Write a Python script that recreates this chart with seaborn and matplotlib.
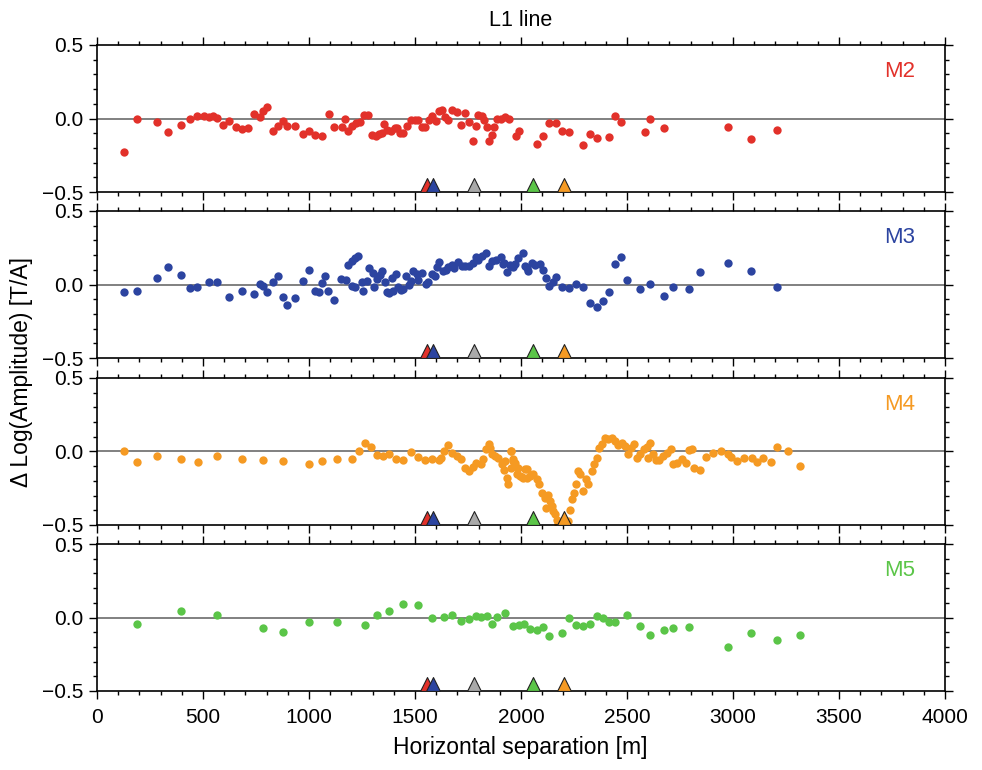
import matplotlib
matplotlib.use("Agg")
import matplotlib.pyplot as plt
from matplotlib.ticker import MultipleLocator
import pandas as pd
import seaborn as sns

# values (x in metres, y = delta log amplitude)
m2_x = [129, 187, 285, 335, 395, 437, 473, 503, 527, 546, 568, 596, 623, 656, 685, 712, 741, 769, 781, 800,
        829, 852, 876, 896, 932, 970, 999, 1030, 1061, 1093, 1116, 1154, 1171, 1185, 1204, 1222, 1240, 1259, 1277,
        1296, 1314, 1330, 1344, 1352, 1366, 1385, 1404, 1413, 1429, 1445, 1462, 1480, 1498, 1516, 1531, 1549, 1564,
        1580, 1599, 1612, 1626, 1641, 1657, 1674, 1697, 1715, 1736, 1754, 1772, 1788, 1795, 1814, 1827, 1838, 1851,
        1862, 1873, 1885, 1904, 1926, 1945, 1976, 1992, 2074, 2102, 2133, 2163, 2193, 2226, 2294, 2325, 2357, 2415,
        2443, 2472, 2585, 2609, 2675, 2975, 3087, 3208]
m2_y = [-0.229, -0.005, -0.023, -0.09, -0.045, 0.0, 0.016, 0.016, 0.011, 0.016, 0.005, -0.043, -0.014, -0.059,
        -0.073, -0.066, 0.032, 0.011, 0.05, 0.079, -0.082, -0.05, -0.016, -0.048, -0.048, -0.104, -0.088, -0.111,
        -0.118, 0.032, -0.057, -0.057, -0.005, -0.086, -0.048, -0.032, -0.027, 0.025, 0.023, -0.113, -0.116, -0.107,
        -0.1, -0.036, -0.077, -0.084, -0.068, -0.066, -0.102, -0.098, -0.048, -0.011, -0.011, -0.009, -0.061, -0.057,
        -0.009, 0.016, -0.014, 0.048, 0.061, 0.011, -0.007, 0.057, 0.043, -0.041, 0.036, -0.025, -0.152, -0.054,
        0.023, 0.016, -0.011, -0.057, -0.156, -0.111, -0.057, -0.002, -0.002, 0.011, -0.005, -0.122, -0.082, -0.175,
        -0.118, -0.034, -0.032, -0.086, -0.093, -0.177, -0.104, -0.134, -0.127, 0.02, -0.027, -0.095, -0.005, -0.066,
        -0.059, -0.138, -0.079]

m3_x = [129, 187, 285, 335, 395, 437, 473, 527, 568, 623, 684, 741, 769, 781, 800, 829, 854, 876, 896, 932, 970,
        1000, 1027, 1045, 1060, 1075, 1091, 1116, 1152, 1174, 1185, 1201, 1217, 1233, 1204, 1217, 1248, 1256, 1275,
        1284, 1300, 1306, 1319, 1335, 1346, 1358, 1366, 1377, 1390, 1398, 1409, 1421, 1432, 1445, 1457, 1473, 1480,
        1492, 1508, 1516, 1531, 1552, 1563, 1578, 1594, 1602, 1615, 1630, 1646, 1657, 1673, 1684, 1704, 1720, 1736,
        1754, 1772, 1788, 1799, 1814, 1835, 1848, 1862, 1882, 1904, 1920, 1932, 1951, 1971, 1987, 2011, 2027, 1916,
        1947, 1963, 2018, 2034, 2050, 2066, 2090, 2102, 2118, 2134, 2149, 2165, 2192, 2226, 2261, 2294, 2325, 2357,
        2387, 2415, 2443, 2473, 2501, 2563, 2609, 2675, 2719, 2794, 2844, 2975, 3086, 3208]
m3_y = [-0.05, -0.043, 0.043, 0.118, 0.063, -0.027, -0.02, 0.018, 0.014, -0.088, -0.041, -0.068, 0.002, -0.007,
        -0.054, 0.018, 0.061, -0.088, -0.141, -0.093, 0.027, 0.098, -0.043, -0.054, 0.011, 0.059, -0.045, -0.107,
        0.039, 0.029, 0.136, 0.159, 0.181, 0.195, -0.009, -0.02, 0.02, -0.041, 0.023, 0.109, 0.079, -0.018, 0.036,
        0.068, 0.093, 0.018, -0.05, -0.057, 0.041, -0.045, 0.07, -0.018, -0.036, -0.034, 0.061, 0.0, 0.023, 0.095,
        0.073, 0.029, 0.077, 0.005, 0.018, 0.07, 0.057, 0.122, 0.156, 0.095, 0.102, 0.122, 0.136, 0.113, 0.152,
        0.129, 0.125, 0.125, 0.147, 0.186, 0.17, 0.193, 0.215, 0.125, 0.163, 0.17, 0.186, 0.147, 0.086, 0.125,
        0.141, 0.181, 0.215, 0.113, 0.141, 0.136, 0.122, 0.125, 0.095, 0.147, 0.136, 0.141, 0.1, 0.043, -0.009,
        0.018, 0.048, -0.014, -0.027, 0.002, -0.02, -0.127, -0.154, -0.111, -0.054, 0.141, 0.184, 0.032, -0.032,
        0.002, -0.079, -0.018, -0.029, 0.084, 0.143, 0.095, -0.018]

m4_x = [129, 187, 285, 395, 475, 568, 684, 781, 876, 1000, 1060, 1134, 1201, 1234, 1263, 1294, 1322, 1351, 1379,
        1410, 1442, 1480, 1513, 1549, 1580, 1612, 1623, 1637, 1657, 1673, 1697, 1715, 1736, 1754, 1772, 1788, 1810,
        1822, 1835, 1848, 1854, 1862, 1878, 1893, 1909, 1921, 1932, 1940, 1951, 1951, 1964, 1971, 1979, 1987, 2003,
        2019, 2030, 1924, 1952, 1963, 1995, 2011, 2026, 2042, 2058, 2074, 2086, 2097, 2113, 2118, 2129, 2137, 2145,
        2152, 2160, 2168, 2176, 2223, 2231, 2239, 2250, 2259, 2270, 2278, 2294, 2306, 2317, 2333, 2344, 2357, 2369,
        2380, 2396, 2412, 2427, 2443, 2459, 2475, 2490, 2506, 2517, 2533, 2545, 2561, 2580, 2592, 2608, 2600, 2621,
        2637, 2652, 2671, 2687, 2706, 2718, 2734, 2758, 2778, 2794, 2807, 2818, 2844, 2873, 2904, 2943, 2975, 2989,
        3017, 3053, 3088, 3111, 3143, 3179, 3208, 3261, 3316]
m4_y = [0.002, -0.07, -0.032, -0.052, -0.073, -0.032, -0.048, -0.057, -0.063, -0.088, -0.063, -0.05, -0.05, 0.0,
        0.057, 0.032, -0.023, -0.029, -0.018, -0.05, -0.061, -0.005, -0.036, -0.057, -0.048, -0.057, -0.045, 0.002,
        0.041, -0.007, -0.034, -0.054, -0.111, -0.134, -0.107, -0.079, -0.088, -0.052, 0.016, 0.054, 0.023, -0.014,
        -0.029, -0.041, -0.086, -0.127, -0.177, -0.222, 0.002, -0.109, -0.052, -0.075, -0.154, -0.109, -0.172, -0.12,
        -0.177, -0.063, 0.005, -0.063, -0.166, -0.177, -0.12, -0.166, -0.154, -0.188, -0.222, -0.279, -0.313, -0.381,
        -0.295, -0.34, -0.37, -0.404, -0.426, -0.467, -0.49, -0.472, -0.399, -0.324, -0.279, -0.222, -0.132, -0.154,
        -0.268, -0.188, -0.222, -0.132, -0.086, -0.041, 0.027, 0.054, 0.095, 0.084, 0.095, 0.073, 0.045, 0.061,
        0.039, -0.018, 0.027, 0.054, -0.045, -0.018, 0.016, 0.032, 0.061, -0.045, -0.014, -0.059, -0.059, -0.029,
        -0.007, 0.014, -0.082, -0.079, -0.052, -0.079, 0.009, 0.018, -0.109, -0.127, -0.036, -0.011, 0.005, -0.018,
        -0.036, -0.063, -0.045, -0.045, -0.07, -0.045, -0.07, 0.029, 0.002, -0.1]

m5_x = [187, 395, 568, 781, 876, 1000, 1134, 1263, 1322, 1379, 1442, 1513, 1580, 1638, 1676, 1715, 1754, 1788,
        1813, 1838, 1862, 1885, 1926, 1961, 1992, 2016, 2042, 2074, 2102, 2134, 2193, 2226, 2259, 2294, 2325, 2357,
        2385, 2415, 2443, 2501, 2563, 2609, 2675, 2719, 2794, 2975, 3086, 3208, 3316]
m5_y = [-0.041, 0.043, 0.018, -0.07, -0.098, -0.032, -0.029, -0.054, 0.018, 0.041, 0.095, 0.084, -0.002, 0.002,
        0.02, -0.025, -0.009, 0.007, 0.002, 0.007, -0.045, 0.002, 0.032, -0.059, -0.052, -0.041, -0.077, -0.086,
        -0.066, -0.125, -0.104, -0.005, -0.048, -0.061, -0.041, 0.011, -0.005, -0.029, -0.029, 0.014, -0.059,
        -0.122, -0.084, -0.073, -0.063, -0.202, -0.107, -0.152, -0.12]

# station markers along the bottom of each panel
station_x = [1555, 1585, 1780, 2055, 2205]
station_colors = ["#e2312a", "#2c44a0", "#a9a9a9", "#5bc548", "#f59a23"]

panel_names = ["M2", "M3", "M4", "M5"]
panel_colors = ["#e2312a", "#2c44a0", "#f59a23", "#5bc548"]
panel_x = [m2_x, m3_x, m4_x, m5_x]
panel_y = [m2_y, m3_y, m4_y, m5_y]

sns.set_style("ticks")
plt.rcParams["font.family"] = ["Liberation Sans", "DejaVu Sans"]
plt.rcParams["text.color"] = "black"
plt.rcParams["xtick.color"] = "black"
plt.rcParams["ytick.color"] = "black"

fig = plt.figure(figsize=(9.82, 7.70), dpi=100)

left, width = 97 / 982, 848 / 982
tops = [45, 211, 378, 544]
height = 147 / 770

for i, name in enumerate(panel_names):
    ax = fig.add_axes([left, 1 - (tops[i] + 147) / 770, width, height])
    df = pd.DataFrame({"x": panel_x[i], "y": panel_y[i]})
    ax.axhline(0, color="#808080", lw=1.4, zorder=1)
    sns.scatterplot(data=df, x="x", y="y", ax=ax, color=panel_colors[i], s=36,
                    linewidth=0, zorder=2, legend=False)
    for sx, sc in zip(station_x, station_colors):
        ax.scatter(sx, -0.453, marker="^", s=100, color=sc, edgecolor="#222222",
                   linewidth=0.8, zorder=5, clip_on=False)
    ax.set_xlim(0, 4000)
    ax.set_ylim(-0.5, 0.5)
    ax.xaxis.set_major_locator(MultipleLocator(500))
    ax.xaxis.set_minor_locator(MultipleLocator(100))
    ax.yaxis.set_major_locator(MultipleLocator(0.5))
    ax.yaxis.set_minor_locator(MultipleLocator(0.1))
    ax.tick_params(which="both", direction="out", top=True, right=True, width=1.0,
                   labelsize=15, color="black", labelcolor="black")
    ax.tick_params(which="major", length=6)
    ax.tick_params(which="minor", length=3)
    ax.tick_params(axis="y", pad=4)
    for sp in ax.spines.values():
        sp.set_visible(True)
        sp.set_linewidth(1.2)
        sp.set_color("black")
    ax.set_xlabel("")
    ax.set_ylabel("")
    if i < 3:
        ax.set_xticklabels([])
    else:
        ax.tick_params(axis="x", pad=6)
    ax.text(0.947, 0.82, name, transform=ax.transAxes, color=panel_colors[i],
            fontsize=16, ha="center", va="center")

fig.text(0.53, 0.973, "L1 line", ha="center", va="center", fontsize=15.5)
fig.text(0.53, 0.029, "Horizontal separation [m]", ha="center", va="center", fontsize=16.5)
fig.text(0.022, 0.517, "Δ Log(Amplitude) [T/A]", ha="center", va="center",
         rotation=90, fontsize=16.5)

fig.savefig("out.png", dpi=100)
